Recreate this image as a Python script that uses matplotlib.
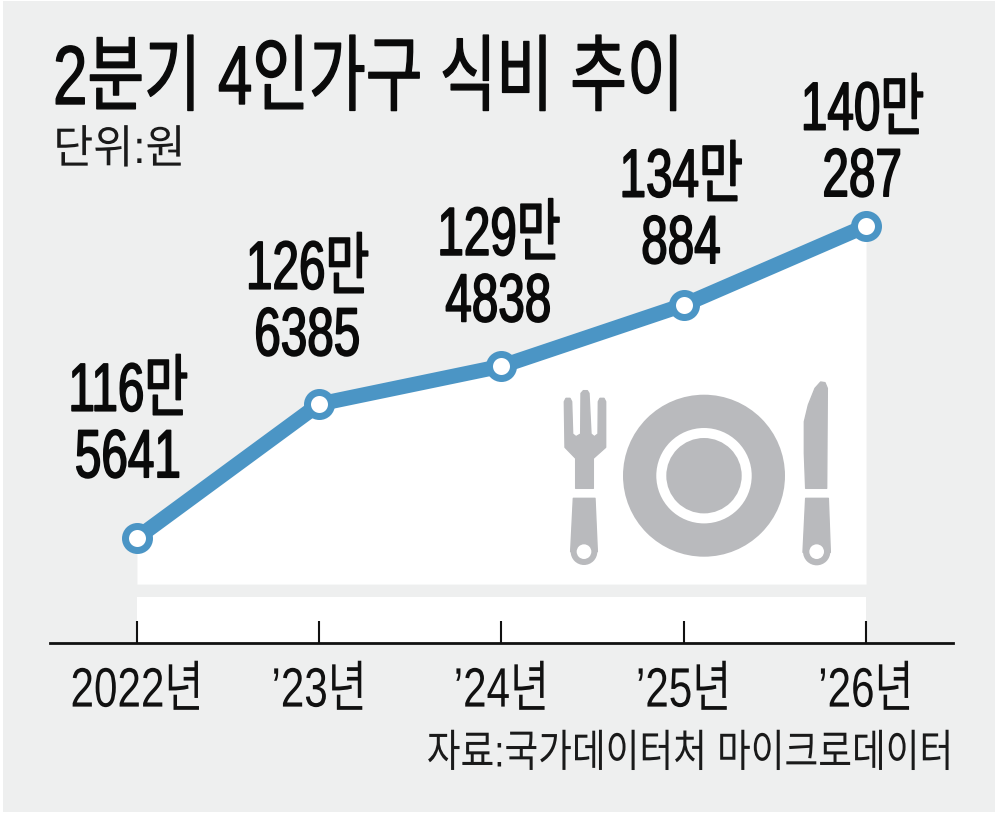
import matplotlib
matplotlib.use("Agg")
import matplotlib.pyplot as plt
from matplotlib.patches import Circle, Polygon, Rectangle
from matplotlib.patheffects import AbstractPathEffect
from matplotlib.transforms import Affine2D

plt.rcParams["font.family"] = ["Liberation Sans", "Noto Sans CJK KR"]

## ----- DATA -----
years = ["2022년", "’23년", "’24년", "’25년", "’26년"]
values = [1165641, 1266385, 1294838, 1340884, 1400287]
value_labels = ["116만\n5641", "126만\n6385", "129만\n4838", "134만\n884", "140만\n287"]
label_offsets_px = [(-9, 112), (-12, 100), (-3, 96), (-3, 93), (-4, 81)]

BG = "#eeefef"
BLUE = "#4b95c5"
ICON = "#b9babd"
PX = 0.72  # points per pixel at dpi 100


class Squeeze(AbstractPathEffect):
    # the reference type is condensed and no condensed font is installed
    def __init__(self, factor, align="center", stroke=0):
        super().__init__()
        self.factor = factor
        self.align = align
        self.stroke = stroke

    def draw_path(self, renderer, gc, tpath, affine, rgbFace=None):
        box = tpath.get_extents(affine)
        x = {"left": box.x0, "center": (box.x0 + box.x1) / 2, "right": box.x1}[self.align]
        squeezed = affine + Affine2D().translate(-x, 0).scale(self.factor, 1).translate(x, 0)
        gc0 = renderer.new_gc()
        gc0.copy_properties(gc)
        if self.stroke:
            gc0.set_linewidth(self.stroke)
            gc0.set_foreground(rgbFace)
        renderer.draw_path(gc0, tpath, squeezed, rgbFace)
        gc0.restore()


fig = plt.figure(figsize=(10, 8.15), dpi=100, facecolor="white")

# grey panel behind everything, white border around it
px = fig.add_axes([0, 0, 1, 1], zorder=0)
px.set_xlim(0, 1000)
px.set_ylim(815, 0)
px.axis("off")
px.add_patch(Rectangle((3, 1), 992, 811, color=BG, lw=0))

## ----- CHART -----
ax = fig.add_axes([0.05, 172 / 815, 0.903, 603 / 815], zorder=1)
ax.patch.set_alpha(0)
ax.set_xlim(-0.477, 4.477)
ax.set_ylim(1086695, 1540073)
for s in ["top", "left", "right"]:
    ax.spines[s].set_visible(False)
ax.spines["bottom"].set_linewidth(2)
ax.spines["bottom"].set_color("#111111")
ax.set_yticks([])

xs = list(range(len(values)))
ax.fill_between(xs, values, 1131000, color="white", lw=0, zorder=1)
ax.fill_between([0, 4], 1086695, 1121000, color="white", lw=0, zorder=1)
ax.plot(xs, values, color=BLUE, lw=15 * PX, solid_capstyle="butt", zorder=3, clip_on=False)
ax.plot(xs, values, "o", ms=24 * PX, mfc="white", mec=BLUE, mew=7 * PX, zorder=4, clip_on=False)

ax.set_xticks(xs)
ax.set_xticklabels(years, fontsize=40, color="#111111")
ax.tick_params(axis="x", direction="in", length=22 * PX, width=1.5, color="#111111", pad=17)
for tick_label in ax.get_xticklabels():
    tick_label.set_path_effects([Squeeze(0.76)])

for x, v, label, off in zip(xs, values, value_labels, label_offsets_px):
    ax.annotate(label, (x, v), xytext=(off[0] * PX, off[1] * PX), textcoords="offset points",
                ha="center", va="center", fontsize=49, linespacing=1.05, color="#0a0a0a", zorder=5,
                path_effects=[Squeeze(0.70, stroke=1.2)])

## ----- TEXT -----
px.text(52, 82, "2분기 4인가구 식비 추이", fontsize=60, va="center", color="#0a0a0a", zorder=5,
        path_effects=[Squeeze(0.74, "left", stroke=1.0)])
px.text(53, 151, "단위:원", fontsize=33, va="center", color="#1a1a1a", zorder=5,
        path_effects=[Squeeze(0.95, "left")])
px.text(954, 755, "자료:국가데이터처 마이크로데이터", fontsize=32, ha="right", va="center", color="#1a1a1a",
        zorder=5, path_effects=[Squeeze(0.825, "right")])

## ----- PLATE, FORK, KNIFE -----
icons = fig.add_axes([0, 0, 1, 1], zorder=2)
icons.set_xlim(0, 1000)
icons.set_ylim(815, 0)
icons.axis("off")


def zoomed(points):
    return [(540 + a / 3, 360 + b / 3) for a, b in points]


def shape(points):
    icons.add_patch(Polygon(zoomed(points), closed=True, fc=ICON, ec=ICON, lw=1, joinstyle="round"))


def handle_end(a, b, r, hole=22):
    icons.add_patch(Circle(zoomed([(a, b)])[0], r / 3, color=ICON, lw=0))
    icons.add_patch(Circle(zoomed([(a, b)])[0], hole / 3, color="white", lw=0))


icons.add_patch(Circle((704, 475.7), 81, color=ICON, lw=0))
icons.add_patch(Circle((704, 475.7), 47.7, color="white", lw=0))
icons.add_patch(Circle((704, 475.7), 37.7, color=ICON, lw=0))

shape([(73, 125), (78, 115), (90, 115), (95, 125), (98, 222), (108, 230), (122, 222), (123, 100), (130, 92),
       (142, 92), (147, 100), (153, 222), (163, 230), (174, 222), (175, 125), (180, 115), (192, 115),
       (197, 125), (197, 262), (160, 295), (160, 385), (107, 385), (107, 295), (75, 262)])
shape([(100, 415), (165, 415), (172, 575), (92, 575)])
handle_end(132, 575, 40)

shape([(860, 385), (862, 85), (855, 68), (842, 66), (825, 85), (805, 135), (793, 185), (793, 280), (797, 385)])
shape([(797, 415), (865, 415), (871, 577), (789, 577)])
handle_end(830, 575, 41)

fig.savefig("out.png", dpi=100, facecolor="white")
